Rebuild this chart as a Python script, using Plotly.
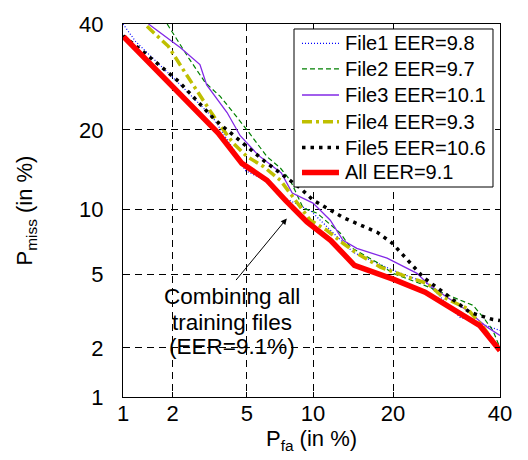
from statistics import NormalDist
import plotly.graph_objects as go

nd = NormalDist()
def probit(v):
    return [nd.inv_cdf(p / 100.0) for p in v]

tick_vals = [1, 2, 5, 10, 20, 40]
tick_text = ["1", "2", "5", "10", "20", "40"]

names = ["File1 EER=9.8", "File2 EER=9.7", "File3 EER=10.1", "File4 EER=9.3", "File5 EER=10.6", "All EER=9.1"]

pfa_file1 = [1.0, 1.2, 2.22, 3.36, 4.53, 4.9, 5.93, 7.58, 9.8, 12.1, 14.44, 20.0, 25.7, 31.8, 35.9, 40.0]
pmiss_file1 = [40.0, 36.3, 27.7, 21.9, 16.06, 14.3, 13.25, 11.1, 9.8, 7.84, 6.4, 5.24, 4.5, 2.98, 2.76, 2.52]

pfa_file2 = [1.86, 2.16, 2.47, 3.05, 3.66, 4.27, 5.0, 6.24, 7.2, 7.98, 9.09, 10.4, 12.9, 14.06, 17.6, 20.0, 24.4, 30.5, 34.4, 36.5, 38.5, 40.0]
pmiss_file2 = [40.0, 36.1, 32.9, 28.1, 25.6, 22.8, 20.0, 16.1, 14.6, 13.1, 10.08, 9.6, 7.84, 6.78, 5.73, 5.06, 4.5, 3.82, 3.46, 2.98, 2.52, 2.0]

pfa_file3 = [1.44, 2.22, 2.85, 3.1, 3.97, 4.63, 5.67, 7.27, 8.14, 10.0, 11.77, 13.2, 14.9, 19.1, 23.9, 25.7, 29.3, 33.2, 37.3, 40.0]
pmiss_file3 = [40.0, 35.0, 31.6, 27.7, 22.8, 19.1, 16.3, 13.97, 11.64, 10.59, 8.95, 7.28, 6.68, 6.0, 5.06, 4.5, 3.82, 3.25, 2.63, 2.36]

pfa_file4 = [1.41, 1.89, 2.36, 2.79, 3.28, 3.8, 4.27, 5.0, 6.0, 7.2, 7.98, 9.74, 11.4, 13.2, 14.9, 18.1, 21.6, 25.7, 28.6, 33.2, 36.5, 40.0]
pmiss_file4 = [39.5, 35.3, 30.0, 26.2, 22.8, 20.0, 18.0, 16.1, 14.8, 13.1, 11.64, 8.95, 8.08, 7.05, 6.33, 5.43, 4.94, 4.5, 3.82, 3.33, 2.63, 1.94]

pfa_file5 = [1.0, 1.37, 2.16, 3.43, 6.13, 8.82, 10.0, 13.2, 17.7, 19.9, 25.0, 29.3, 33.8, 38.5, 40.0]
pmiss_file5 = [37.5, 33.9, 28.4, 21.6, 15.4, 12.2, 10.9, 9.2, 7.9, 7.05, 4.83, 3.9, 3.17, 2.9, 2.86]

pfa_all = [1.01, 3.57, 4.72, 6.24, 7.58, 9.43, 11.8, 14.6, 20.1, 25.3, 35.8, 40.0]
pmiss_all = [37.3, 19.5, 15.2, 13.1, 10.9, 8.8, 7.28, 5.54, 4.72, 4.06, 2.68, 1.93]

styles = [
    dict(color="#0000ff", width=1.2, dash="1px,2px"),
    dict(color="#008000", width=1.2, dash="5px,3px"),
    dict(color="#8228e6", width=1.3),
    dict(color="#bfbf00", width=3.5, dash="10px,4px,3px,4px"),
    dict(color="#000000", width=3.5, dash="3.5px,5px"),
    dict(color="#ff0000", width=5.5),
]
series = [
    (pfa_file1, pmiss_file1),
    (pfa_file2, pmiss_file2),
    (pfa_file3, pmiss_file3),
    (pfa_file4, pmiss_file4),
    (pfa_file5, pmiss_file5),
    (pfa_all, pmiss_all),
]

FONT = "Liberation Sans, Arial, sans-serif"

fig = go.Figure()
for (xs, ys), ln, nm in zip(series, styles, names):
    fig.add_trace(go.Scatter(x=probit(xs), y=probit(ys), mode="lines", name=nm, line=ln,
                             showlegend=False))

axis_common = dict(
    tickmode="array",
    tickvals=probit(tick_vals),
    ticktext=tick_text,
    showgrid=True,
    gridcolor="#000000",
    gridwidth=1,
    griddash="7px,5px",
    showline=True,
    linecolor="#000000",
    linewidth=1,
    mirror="ticks",
    ticks="inside",
    ticklen=5,
    tickcolor="#000000",
    zeroline=False,
    automargin=False,
    tickfont=dict(family=FONT, size=22, color="#000000"),
)

lo, hi = probit([1, 40])
fig.update_xaxes(range=[lo, hi], ticklabelstandoff=-3,
                 title=dict(text="P<sub>fa</sub> (in %)", font=dict(family=FONT, size=22, color="#000000"), standoff=2),
                 **axis_common)
fig.update_yaxes(range=[lo, hi], ticklabelstandoff=14,
                 title=dict(text="P<sub>miss</sub> (in %)", font=dict(family=FONT, size=22, color="#000000"), standoff=40),
                 **axis_common)

fig.update_layout(
    width=520, height=452,
    margin=dict(l=115, r=28, t=16, b=63),
    plot_bgcolor="#ffffff",
    paper_bgcolor="#ffffff",
    font=dict(family=FONT, size=20, color="#000000"),
    showlegend=False,
)

# legend box drawn by hand to match the reference spacing
leg_box = dict(x0=0.4536, x1=0.9814, y0=0.5630, y1=0.9866)
fig.add_shape(type="rect", xref="paper", yref="paper", layer="above",
              fillcolor="#ffffff", line=dict(color="#000000", width=1), **leg_box)
row_y = [0.9483, 0.8799, 0.8097, 0.7381, 0.6689, 0.6019]
for nm, ln, yy in zip(names, styles, row_y):
    fig.add_shape(type="line", xref="paper", yref="paper", layer="above",
                  x0=0.4748, x1=0.5729, y0=yy, y1=yy, line=ln)
    fig.add_annotation(text=nm, xref="paper", yref="paper", x=0.5835, y=yy,
                       xanchor="left", yanchor="middle", showarrow=False,
                       font=dict(family=FONT, size=20, color="#000000"))

ann_lines = ["Combining all", "training files", "(EER=9.1%)"]
ann_y = [0.2685, 0.1987, 0.1343]
for t, yy in zip(ann_lines, ann_y):
    fig.add_annotation(text=t, xref="paper", yref="paper", x=0.2883, y=yy,
                       xanchor="center", yanchor="middle", showarrow=False,
                       font=dict(family=FONT, size=22.5, color="#000000"))

arrow_head = probit([7.7, 9.1])
fig.add_annotation(x=arrow_head[0], y=arrow_head[1], xref="x", yref="y", text="",
                   showarrow=True, ax=-52, ay=63, arrowhead=2, arrowsize=1.2,
                   arrowwidth=1, arrowcolor="#000000")

fig.write_html("out.html")
